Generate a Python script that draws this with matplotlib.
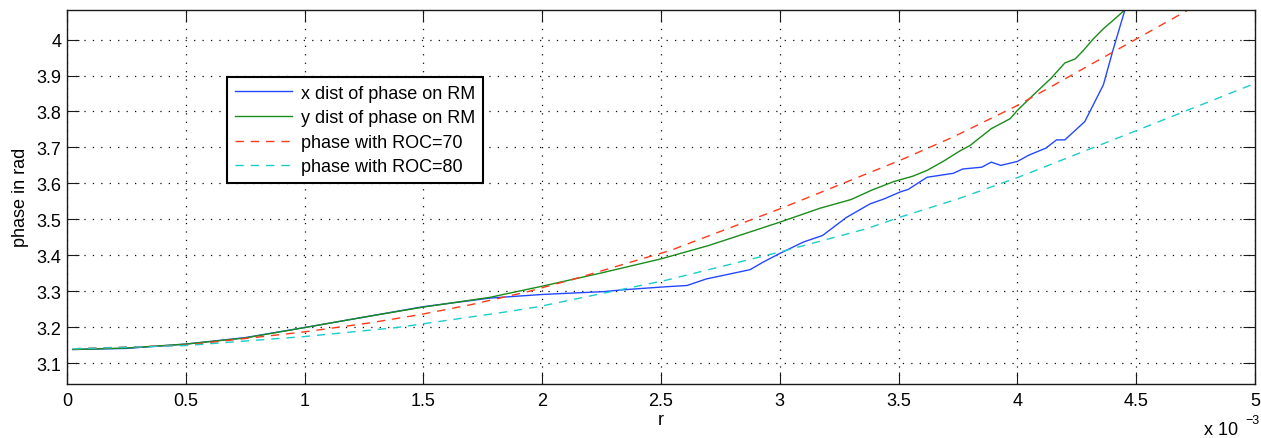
import numpy as np
import matplotlib
matplotlib.use('Agg')
import matplotlib.pyplot as plt
from matplotlib.ticker import FuncFormatter, MultipleLocator

plt.rcParams['font.family'] = ['Liberation Sans', 'DejaVu Sans']
plt.rcParams['font.size'] = 13

# r in units of 1e-3
r_x = [0.025, 0.25, 0.5, 0.75, 1.0, 1.25, 1.5, 1.78, 2.0, 2.26, 2.34, 2.51, 2.61, 2.69,
       2.875, 2.93, 3.0, 3.1, 3.18, 3.28, 3.38, 3.44, 3.51, 3.54, 3.62, 3.73, 3.77,
       3.85, 3.89, 3.93, 4.0, 4.05, 4.12, 4.165, 4.2, 4.284, 4.362, 4.404, 4.453, 4.48]
phase_x = [3.138, 3.141, 3.153, 3.171, 3.199, 3.228, 3.257, 3.281, 3.291, 3.299, 3.304,
           3.312, 3.316, 3.334, 3.360, 3.381, 3.405, 3.437, 3.455, 3.505, 3.543, 3.557,
           3.577, 3.583, 3.617, 3.628, 3.640, 3.645, 3.659, 3.650, 3.661, 3.679, 3.698,
           3.721, 3.721, 3.772, 3.874, 3.974, 4.083, 4.14]

r_y = [0.025, 0.25, 0.5, 0.75, 1.0, 1.25, 1.5, 1.78, 2.0, 2.25, 2.5, 2.7, 3.0, 3.17,
       3.30, 3.39, 3.48, 3.56, 3.62, 3.69, 3.76, 3.80, 3.89, 3.97, 4.0, 4.08, 4.14,
       4.2, 4.243, 4.277, 4.32, 4.362, 4.418, 4.453, 4.48]
phase_y = [3.138, 3.142, 3.153, 3.170, 3.199, 3.228, 3.256, 3.283, 3.314, 3.351, 3.390,
           3.427, 3.492, 3.531, 3.555, 3.582, 3.605, 3.620, 3.636, 3.662, 3.691, 3.705,
           3.752, 3.780, 3.803, 3.854, 3.891, 3.935, 3.946, 3.969, 4.002, 4.030, 4.062,
           4.083, 4.10]

r_70 = [0.025, 0.5, 1.0, 1.275, 1.486, 1.696, 1.935, 2.145, 2.398, 2.538, 3.0, 3.506,
        3.73, 4.004, 4.502, 4.726, 5.0]
phase_70 = [3.140, 3.150, 3.187, 3.212, 3.235, 3.262, 3.298, 3.336, 3.386, 3.413, 3.529,
            3.664, 3.729, 3.818, 4.002, 4.085, 4.20]

r_80 = [0.025, 0.5, 1.0, 1.388, 1.822, 1.977, 2.524, 3.0, 3.366, 3.506, 3.751, 4.004,
        4.502, 5.0]
phase_80 = [3.140, 3.149, 3.174, 3.199, 3.240, 3.256, 3.331, 3.409, 3.474, 3.506, 3.557,
            3.617, 3.747, 3.878]

fig = plt.figure(figsize=(12.61, 4.39), dpi=100)
ax = fig.add_axes([0.0531, 0.123, 0.9421, 0.8526])

sc = 1e-3
ax.plot(np.array(r_x) * sc, phase_x, color='#2448ff', lw=1.0, label='x dist of phase on RM')
ax.plot(np.array(r_y) * sc, phase_y, color='#1a8c1a', lw=1.0, label='y dist of phase on RM')
ax.plot(np.array(r_70) * sc, phase_70, color='#ff3a1a', lw=1.0, dashes=(6, 5),
        label='phase with ROC=70')
ax.plot(np.array(r_80) * sc, phase_80, color='#1ccccc', lw=1.0, dashes=(6, 5),
        label='phase with ROC=80')

ax.set_xlim(0, 5e-3)
ax.set_ylim(3.042, 4.083)
ax.xaxis.set_major_locator(MultipleLocator(0.5e-3))
ax.yaxis.set_major_locator(MultipleLocator(0.1))
ax.xaxis.set_major_formatter(FuncFormatter(lambda v, p: ('%g' % round(v / sc, 3))))
ax.yaxis.set_major_formatter(FuncFormatter(lambda v, p: ('%g' % round(v, 3))))

ax.grid(True, color='0.05', linestyle=(0, (1, 5.75)), linewidth=0.9)
ax.tick_params(direction='in', length=8.5, width=0.8, top=True, right=True,
               labelsize=13, color='0.1')
ax.tick_params(axis='x', pad=6)
ax.tick_params(axis='y', pad=4)
for s in ax.spines.values():
    s.set_linewidth(1.0)
    s.set_color('0.1')

ax.set_xlabel('r', labelpad=1)
ax.set_ylabel('phase in rad', labelpad=5)
fig.text(1238 / 1261, 1 - 431 / 439, 'x 10', ha='right', va='center', fontsize=13)
fig.text(1245 / 1261, 1 - 421 / 439, '\u22123', ha='left', va='center', fontsize=9)

leg = ax.legend(loc='upper left', bbox_to_anchor=(0.135, 0.819), fancybox=False,
                framealpha=1, edgecolor='black', handlelength=3.2, labelspacing=0.42,
                borderpad=0.4, handletextpad=0.5, borderaxespad=0)
leg.get_frame().set_linewidth(1.5)

fig.savefig('out.png', dpi=100)
